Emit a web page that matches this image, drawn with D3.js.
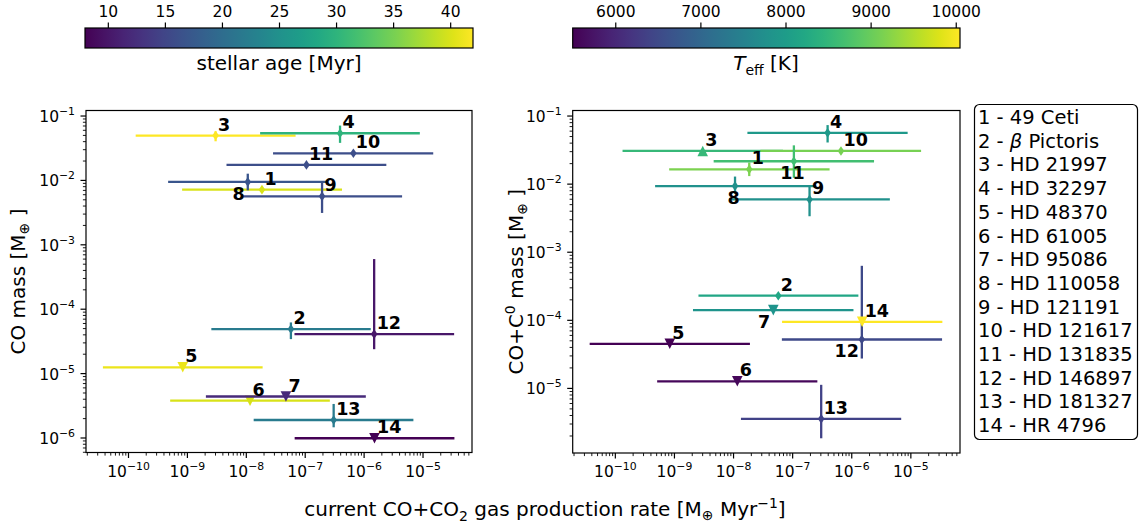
<!DOCTYPE html>
<html>
<head>
<meta charset="utf-8">
<script src="https://cdn.jsdelivr.net/npm/d3@7"></script>
<style>
  body { margin: 0; background: #fff; }
  text { font-family: "DejaVu Sans", sans-serif; }
</style>
</head>
<body>
<svg id="fig" width="1139" height="527"></svg>
<script>
// ---- data -------------------------------------------------------------
const starIds   = [1, 2, 3, 4, 5, 6, 7, 8, 9, 10, 11, 12, 13, 14];
const starNames = ["49 Ceti", "β Pictoris", "HD 21997", "HD 32297", "HD 48370", "HD 61005",
                   "HD 95086", "HD 110058", "HD 121191", "HD 121617", "HD 131835",
                   "HD 146897", "HD 181327", "HR 4796"];

// current CO+CO2 production rate [M_earth / Myr] with its range
const rate   = [1.88e-8, 5.83e-8, 3.07e-9, 3.98e-7, 8.5e-10, 1.18e-8, 4.8e-8, 1.08e-8, 1.97e-7, 6.7e-7, 1.07e-7, 1.51e-6, 3.1e-7, 1.53e-6];
const rateLo = [8.3e-10, 2.6e-9, 1.35e-10, 1.75e-8, 3.75e-11, 5.2e-10, 2.1e-9, 4.8e-10, 8.7e-9, 2.9e-8, 4.7e-9, 6.7e-8, 1.36e-8, 6.75e-8];
const rateHi = [4.3e-7, 1.32e-6, 7.0e-8, 9.0e-6, 1.93e-8, 2.67e-7, 1.09e-6, 2.46e-7, 4.5e-6, 1.52e-5, 2.43e-6, 3.44e-5, 7.0e-6, 3.48e-5];

// CO mass [M_earth]
const coMass   = [7.06e-3, 4.82e-5, 4.89e-2, 5.31e-2, 1.23e-5, 3.73e-6, 4.33e-6, 9.31e-3, 5.56e-3, 2.59e-2, 1.71e-2, 4.03e-5, 1.87e-6, 9.73e-7];
const coMassLo = [null, 3.37e-5, 3.98e-2, 3.76e-2, null, null, null, 6.89e-3, 3.07e-3, null, null, 2.35e-5, 1.44e-6, null];
const coMassHi = [null, 6.12e-5, 5.70e-2, 6.98e-2, null, null, null, 1.25e-2, 8.97e-3, null, null, 5.90e-4, 3.32e-6, null];
const coLimit  = ["", "", "", "", "upper", "upper", "upper", "", "", "", "", "", "", "upper"];

// CO + C0 mass [M_earth]
const totMass   = [1.62e-2, 2.26e-4, 3.02e-2, 5.57e-2, 4.44e-5, 1.25e-5, 1.39e-4, 9.20e-3, 5.86e-3, 3.02e-2, 2.13e-2, 5.14e-5, 3.51e-6, 9.35e-5];
const totMassLo = [1.29e-2, null, null, 4.02e-2, null, null, null, 7.11e-3, 3.32e-3, null, 1.22e-2, 2.70e-5, 1.82e-6, null];
const totMassHi = [2.04e-2, null, null, 7.24e-2, null, null, null, 1.27e-2, 9.02e-3, null, 3.65e-2, 6.21e-4, 1.11e-5, null];
const totLimit  = ["", "", "lower", "", "upper", "upper", "upper", "", "", "", "", "", "", "upper"];

// stellar properties used for colouring
const ageMyr = [40, 22, 42, 30, 41, 40, 12, 17, 16, 16, 16, 10, 22, 8];
const teffK  = [9150, 8200, 8550, 7950, 5500, 5580, 7850, 7780, 7780, 9120, 8680, 6500, 6400, 10050];

// tick values
const rateTicks  = [1e-10, 1e-9, 1e-8, 1e-7, 1e-6, 1e-5];
const coTicks    = [1e-1, 1e-2, 1e-3, 1e-4, 1e-5, 1e-6];
const totTicks   = [1e-1, 1e-2, 1e-3, 1e-4, 1e-5];
const ageTicks   = [10, 15, 20, 25, 30, 35, 40];
const teffTicks  = [6000, 7000, 8000, 9000, 10000];

// ---- layout -------------------------------------------------------------
const svg = d3.select("#fig");
const TICK = 5.5, MINOR = 3.1, PAD = 5.5;
const tickFont = 15.5;

const ageScale  = d3.scaleLinear().domain([8, 42]).range([85, 473]);
const teffScale = d3.scaleLinear().domain([5500, 10050]).range([572.7, 960]);
const ageColor  = d3.scaleSequential(d3.interpolateViridis).domain([8, 42]);
const teffColor = d3.scaleSequential(d3.interpolateViridis).domain([5500, 10050]);

const rateDomain = [Math.pow(10, -10.713), Math.pow(10, -4.16)];

const panels = [
  {
    x: d3.scaleLog().domain(rateDomain).range([86, 472]),
    y: d3.scaleLog().domain([Math.pow(10, -6.233), Math.pow(10, -0.922)]).range([452.5, 110.5]),
    yTicks: coTicks, mass: coMass, lo: coMassLo, hi: coMassHi, limit: coLimit,
    color: i => ageColor(ageMyr[i]),
    ylabel: "co", ylabelX: 25,
    place: { 8: "below-left" }
  },
  {
    x: d3.scaleLog().domain(rateDomain).range([572.7, 960]),
    y: d3.scaleLog().domain([Math.pow(10, -5.956), Math.pow(10, -0.926)]).range([453, 110.5]),
    yTicks: totTicks, mass: totMass, lo: totMassLo, hi: totMassHi, limit: totLimit,
    color: i => teffColor(teffK[i]),
    ylabel: "tot", ylabelX: 523,
    place: { 7: "below-left", 8: "below", 11: "below", 12: "below-left" }
  }
];

// 2..9 x 10^k values that fall inside a log scale's domain
function minorTicks(scale) {
  const [a, b] = d3.extent(scale.domain());
  const lo = Math.floor(Math.log10(a)), hi = Math.ceil(Math.log10(b));
  const out = [];
  for (let k = lo; k <= hi; k++) {
    for (let m = 2; m <= 9; m++) {
      const v = m * Math.pow(10, k);
      if (v >= a && v <= b) out.push(v);
    }
  }
  return out;
}

function powerLabel(text, v) {
  const e = Math.round(Math.log10(v));
  text.text(null);
  text.append("tspan").text("10");
  text.append("tspan").attr("dy", -7).attr("font-size", tickFont * 0.7).text("\u2212" + Math.abs(e));
}

panels.forEach(p => {
  const [x0, x1] = p.x.range();
  const [y0, y1] = p.y.range();
  const g = svg.append("g");

  // bottom axis: minor + major ticks
  const xMinor = d3.axisBottom(p.x).tickValues(minorTicks(p.x)).tickSize(MINOR).tickFormat("");
  g.append("g").attr("transform", `translate(0,${y0})`).call(xMinor)
    .call(s => s.select(".domain").remove())
    .call(s => s.selectAll("line").attr("stroke-width", 0.9));
  const xMajor = d3.axisBottom(p.x).tickValues(rateTicks).tickSize(TICK).tickPadding(PAD);
  g.append("g").attr("transform", `translate(0,${y0})`).call(xMajor)
    .call(s => s.select(".domain").remove())
    .call(s => s.selectAll("line").attr("stroke-width", 1.2))
    .call(s => s.selectAll("text").attr("font-size", tickFont).attr("font-family", "DejaVu Sans")
      .attr("fill", "#000").attr("y", null).attr("dy", null)
      .attr("transform", "translate(0,24)")
      .each(function (d) { powerLabel(d3.select(this), d); }));

  // left axis
  const yMinor = d3.axisLeft(p.y).tickValues(minorTicks(p.y)).tickSize(MINOR).tickFormat("");
  g.append("g").attr("transform", `translate(${x0},0)`).call(yMinor)
    .call(s => s.select(".domain").remove())
    .call(s => s.selectAll("line").attr("stroke-width", 0.9));
  const yMajor = d3.axisLeft(p.y).tickValues(p.yTicks).tickSize(TICK).tickPadding(PAD);
  g.append("g").attr("transform", `translate(${x0},0)`).call(yMajor)
    .call(s => s.select(".domain").remove())
    .call(s => s.selectAll("line").attr("stroke-width", 1.2))
    .call(s => s.selectAll("text").attr("font-size", tickFont).attr("font-family", "DejaVu Sans")
      .attr("fill", "#000").attr("dy", null).attr("transform", "translate(0,6)")
      .each(function (d) { powerLabel(d3.select(this), d); }));

  // frame
  g.append("rect").attr("x", x0).attr("y", y1).attr("width", x1 - x0).attr("height", y0 - y1)
    .attr("fill", "none").attr("stroke", "#000").attr("stroke-width", 1.2);

  // error bars and markers
  const marks = g.append("g");
  starIds.forEach((id, i) => {
    const c = p.color(i);
    const cx = p.x(rate[i]), cy = p.y(p.mass[i]);
    marks.append("line").attr("x1", p.x(rateLo[i])).attr("x2", p.x(rateHi[i]))
      .attr("y1", cy).attr("y2", cy).attr("stroke", c).attr("stroke-width", 2.3);
    if (p.lo[i] != null && p.hi[i] != null) {
      marks.append("line").attr("x1", cx).attr("x2", cx)
        .attr("y1", p.y(p.lo[i])).attr("y2", p.y(p.hi[i]))
        .attr("stroke", c).attr("stroke-width", 2.3);
    }
    let path;
    if (p.limit[i] === "upper") path = "M0,5.3L-5.3,-5.3L5.3,-5.3Z";
    else if (p.limit[i] === "lower") path = "M0,-5.3L-5.3,5.3L5.3,5.3Z";
    else path = "M0,-4.8L3.3,0L0,4.8L-3.3,0Z";
    marks.append("path").attr("d", path).attr("transform", `translate(${cx},${cy})`).attr("fill", c);
  });

  // star numbers
  starIds.forEach((id, i) => {
    const cx = p.x(rate[i]), cy = p.y(p.mass[i]);
    const pl = p.place[id] || "above-right";
    const t = g.append("text").text(id).attr("font-weight", "bold").attr("font-size", 17.5).attr("fill", "#000");
    if (pl === "above-right") t.attr("x", cx + 2.5).attr("y", cy - 5).attr("text-anchor", "start");
    else if (pl === "below-left") t.attr("x", cx - 3).attr("y", cy + 18).attr("text-anchor", "end");
    else t.attr("x", cx - 1.5).attr("y", cy + 18).attr("text-anchor", "middle");
  });

  // y label
  const yl = svg.append("text").attr("font-size", 20)
    .attr("transform", `translate(${p.ylabelX},${(y0 + y1) / 2}) rotate(-90)`).attr("text-anchor", "middle");
  if (p.ylabel === "co") {
    yl.append("tspan").text("CO mass [M");
  } else {
    yl.append("tspan").text("CO+C");
    yl.append("tspan").attr("dy", -8).attr("font-size", 14).text("0");
    yl.append("tspan").attr("dy", 8).text(" mass [M");
  }
  yl.append("tspan").attr("dy", 4).attr("font-size", 14).text("\u2295");
  yl.append("tspan").attr("dy", -4).text(" ]");
});

// shared x label
const xl = svg.append("text").attr("x", 545).attr("y", 516).attr("font-size", 20).attr("text-anchor", "middle");
xl.append("tspan").text("current CO+CO");
xl.append("tspan").attr("dy", 5).attr("font-size", 14).text("2");
xl.append("tspan").attr("dy", -5).text(" gas production rate [M");
xl.append("tspan").attr("dy", 4).attr("font-size", 14).text("\u2295");
xl.append("tspan").attr("dy", -4).text(" Myr");
xl.append("tspan").attr("dy", -8).attr("font-size", 14).text("\u22121");
xl.append("tspan").attr("dy", 8).text("]");

// ---- colour bars --------------------------------------------------------
function colorbar(scale, ticks, id) {
  const [a, b] = scale.range();
  const defs = svg.append("defs");
  const grad = defs.append("linearGradient").attr("id", id).attr("x1", "0%").attr("x2", "100%");
  d3.range(0, 1.0001, 0.05).forEach(t => grad.append("stop").attr("offset", t).attr("stop-color", d3.interpolateViridis(t)));
  svg.append("rect").attr("x", a).attr("y", 28).attr("width", b - a).attr("height", 20)
    .attr("fill", `url(#${id})`).attr("stroke", "#000").attr("stroke-width", 1.2);
  const ax = d3.axisTop(scale).tickValues(ticks).tickSize(TICK).tickPadding(PAD).tickFormat(d3.format("d"));
  svg.append("g").attr("transform", "translate(0,28)").call(ax)
    .call(s => s.select(".domain").remove())
    .call(s => s.selectAll("line").attr("stroke-width", 1.2))
    .call(s => s.selectAll("text").attr("font-size", tickFont).attr("font-family", "DejaVu Sans").attr("fill", "#000"));
}
colorbar(ageScale, ageTicks, "gradAge");
colorbar(teffScale, teffTicks, "gradTeff");

svg.append("text").attr("x", 279).attr("y", 70).attr("font-size", 20).attr("text-anchor", "middle")
  .text("stellar age [Myr]");
const tl = svg.append("text").attr("x", 766).attr("y", 70).attr("font-size", 20).attr("text-anchor", "middle");
tl.append("tspan").attr("font-style", "italic").text("T");
tl.append("tspan").attr("dy", 5).attr("font-size", 14).text("eff");
tl.append("tspan").attr("dy", -5).text(" [K]");

// ---- legend box ---------------------------------------------------------
svg.append("rect").attr("x", 974.5).attr("y", 104.5).attr("width", 163).attr("height", 335)
  .attr("rx", 5).attr("fill", "#fff").attr("stroke", "#000").attr("stroke-width", 1.2);
const leg = svg.append("g");
starIds.forEach((id, i) => {
  const t = leg.append("text").attr("x", 978).attr("y", 124 + i * 23.7).attr("font-size", 19.5);
  if (starNames[i].startsWith("β")) {
    t.append("tspan").text(id + " - ");
    t.append("tspan").attr("font-style", "italic").text("β");
    t.append("tspan").text(starNames[i].slice(1));
  } else {
    t.text(id + " - " + starNames[i]);
  }
});
</script>
</body>
</html>
